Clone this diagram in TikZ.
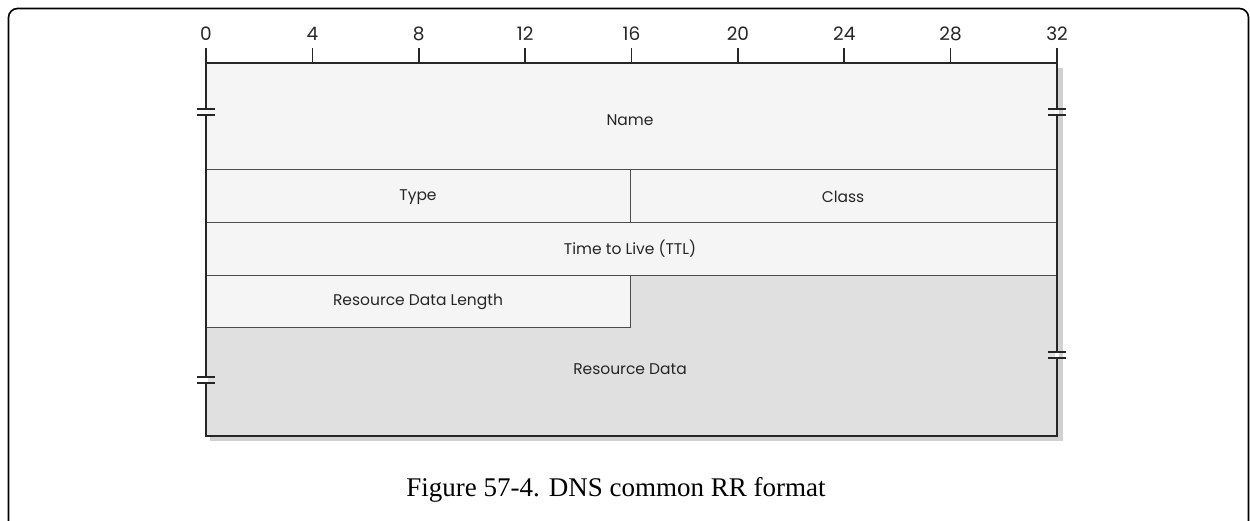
\documentclass[tikz,border=0pt]{standalone}
\usepackage{fontspec}
\setmainfont{Liberation Serif}
\newfontfamily\fieldfont{Poppins}
\begin{document}
\begin{tikzpicture}[x=1pt,y=-1pt,
  fieldtext/.style={font=\fieldfont\fontsize{15.5}{18}\selectfont, text=black!85, inner sep=0pt},
  bitnum/.style={font=\fieldfont\fontsize{18.5}{20}\selectfont, text=black!85, inner sep=0pt, anchor=base},
  inner/.style={draw=black!70, line width=0.9pt},
  outerline/.style={draw=black!85, line width=1.8pt},
  breakbar/.style={draw=black!85, line width=1.4pt}]
\useasboundingbox (0,0) rectangle (1250,520);
\fill[white] (0,0) rectangle (1250,520);
% outer frame
\begin{scope}
\clip (0,0) rectangle (1250,520);
\draw[black, line width=1.6pt, rounded corners=9pt] (8.5,540) -- (8.5,8.5) -- (1248.5,8.5) -- (1248.5,540);
\end{scope}
% shadow
\fill[black!18] (1058,68) rectangle (1063,441);
\fill[black!18] (210,436) rectangle (1063,441);
% fields background
\fill[black!4] (206,63) rectangle (1057,327);
\fill[black!12] (206,327) -- (630,327) -- (630,275) -- (1057,275) -- (1057,436) -- (206,436) -- cycle;
% inner lines
\draw[inner] (206,169) -- (1057,169);
\draw[inner] (206,222) -- (1057,222);
\draw[inner] (206,275) -- (1057,275);
\draw[inner] (206,327) -- (630,327) -- (630,275);
\draw[inner] (630,169) -- (630,222);
% outer border
\draw[outerline] (206,48) -- (206,436) -- (1057,436) -- (1057,48);
\draw[outerline] (206,63) -- (1057,63);
% ticks and numbers
\foreach \b in {4,8,...,28} {
  \draw[outerline, line width=1.6pt] ({206+\b*26.594},48) -- ({206+\b*26.594},63);
}
\foreach \b in {0,4,...,32} {
  \node[bitnum] (bit\b) at ({206+\b*26.594},40) {\b};
}
% break marks
\foreach \px/\py/\nm in {206/112/bl1, 1057/112/br1, 206/380/bl2, 1057/355/br2} {
  \coordinate (\nm) at (\px,\py);
  \fill[white] (\px-2,\py-2.5) rectangle (\px+2,\py+2.5);
  \draw[breakbar] (\px-9,\py-3) -- (\px+9,\py-3);
  \draw[breakbar] (\px-9,\py+3) -- (\px+9,\py+3);
}
% field labels
\node[fieldtext] (name) at (630,120) {Name};
\node[fieldtext] (type) at (418,197) {Type};
\node[fieldtext] (class) at (843,197) {Class};
\node[fieldtext] (ttl) at (630,249) {Time to Live (TTL)};
\node[fieldtext] (rdl) at (418,302) {Resource Data Length};
\node[fieldtext] (rd) at (630,369) {Resource Data};
% caption
\node[font=\fontsize{27}{30}\selectfont, inner sep=0pt] (caption) at (616,490) {Figure 57-4. DNS common RR format};
\end{tikzpicture}
\end{document}
